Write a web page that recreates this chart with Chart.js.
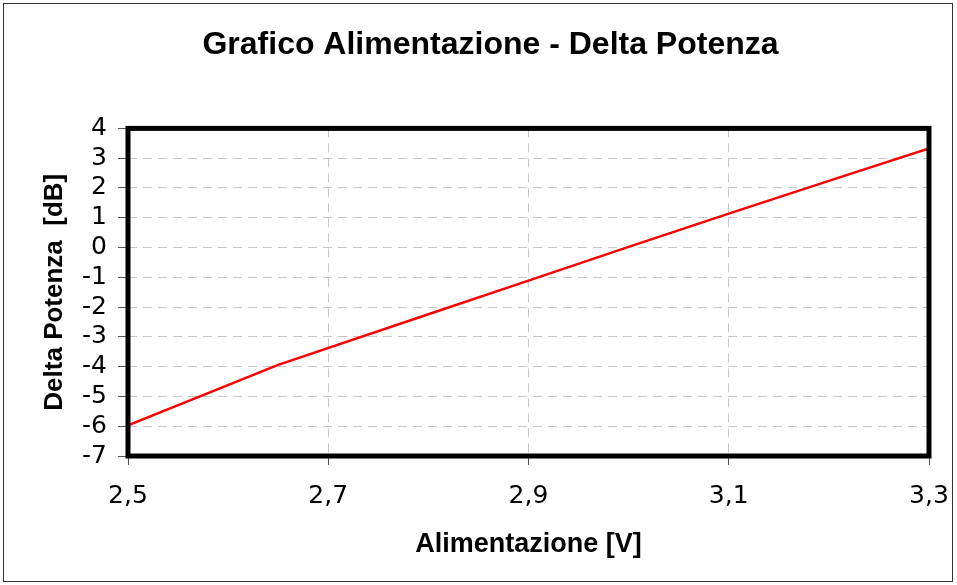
<!DOCTYPE html>
<html>
<head>
<meta charset="utf-8">
<script src="https://cdn.jsdelivr.net/npm/chart.js@4.4.1/dist/chart.umd.min.js"></script>
<style>
    html, body { margin: 0; padding: 0; background: #fff; }
    #wrap { width: 957px; height: 585px; }
</style>
</head>
<body>
<div id="wrap"><canvas id="chart" width="957" height="585"></canvas></div>
<script>
// dati
const voltage = [2.5, 2.65, 2.8, 2.9, 3.0, 3.1, 3.2, 3.3];
const deltaPower = [-5.97, -3.94, -2.24, -1.11, 0.02, 1.14, 2.24, 3.33];
const xTicks = [2.5, 2.7, 2.9, 3.1, 3.3];

const tickFont = { family: 'DejaVu Sans', size: 25 };
const boldFont = 'Liberation Sans';

// cornice esterna e bordo spesso dell'area del grafico
const framePlugin = {
    id: 'frame',
    afterDraw(chart) {
        const ctx = chart.ctx;
        const a = chart.chartArea;
        ctx.save();
        ctx.strokeStyle = '#333';
        ctx.lineWidth = 1;
        ctx.strokeRect(3.5, 3.5, 949, 578);
        ctx.strokeStyle = '#000';
        ctx.lineWidth = 5;
        ctx.strokeRect(a.left, a.top, a.right - a.left, a.bottom - a.top);
        ctx.restore();
    }
};

new Chart(document.getElementById('chart'), {
    type: 'line',
    data: {
        datasets: [{
            data: voltage.map((v, i) => ({ x: v, y: deltaPower[i] })),
            borderColor: '#ff0000',
            borderWidth: 2.5,
            pointRadius: 0,
            tension: 0
        }]
    },
    options: {
        responsive: false,
        animation: false,
        layout: { padding: { left: 52, right: 28, top: 0, bottom: 0 } },
        plugins: {
            legend: { display: false },
            tooltip: { enabled: false },
            title: {
                display: true,
                text: 'Grafico Alimentazione - Delta Potenza',
                color: '#000',
                font: { family: boldFont, size: 32, weight: 'bold' },
                padding: { top: 26, bottom: 64 }
            }
        },
        scales: {
            x: {
                type: 'linear',
                min: 2.5,
                max: 3.3,
                afterBuildTicks: axis => { axis.ticks = xTicks.map(v => ({ value: v })); },
                afterFit: s => {
                    s.height = 129;
                    s.paddingLeft = 0;
                    s.paddingRight = 0;
                },
                ticks: {
                    color: '#000',
                    font: tickFont,
                    padding: 16,
                    maxRotation: 0,
                    autoSkip: false,
                    callback: v => v.toFixed(1).replace('.', ',')
                },
                grid: {
                    color: '#c8c8c8',
                    tickColor: '#555',
                    tickLength: 9
                },
                border: { display: false, dash: [9, 6] },
                title: {
                    display: true,
                    text: 'Alimentazione [V]',
                    color: '#000',
                    font: { family: boldFont, size: 27, weight: 'bold' },
                    padding: { top: 0, bottom: 24 }
                }
            },
            y: {
                min: -7,
                max: 4,
                afterFit: s => { s.width = 76; },
                ticks: {
                    stepSize: 1,
                    autoSkip: false,
                    color: '#000',
                    font: tickFont,
                    padding: 11
                },
                grid: {
                    color: '#c8c8c8',
                    tickColor: '#555',
                    tickLength: 10
                },
                border: { display: false, dash: [9, 6] },
                title: {
                    display: true,
                    text: 'Delta Potenza  [dB]',
                    color: '#000',
                    font: { family: boldFont, size: 26, weight: 'bold' },
                    padding: { top: -13, bottom: 0 }
                }
            }
        }
    },
    plugins: [framePlugin]
});
</script>
</body>
</html>
